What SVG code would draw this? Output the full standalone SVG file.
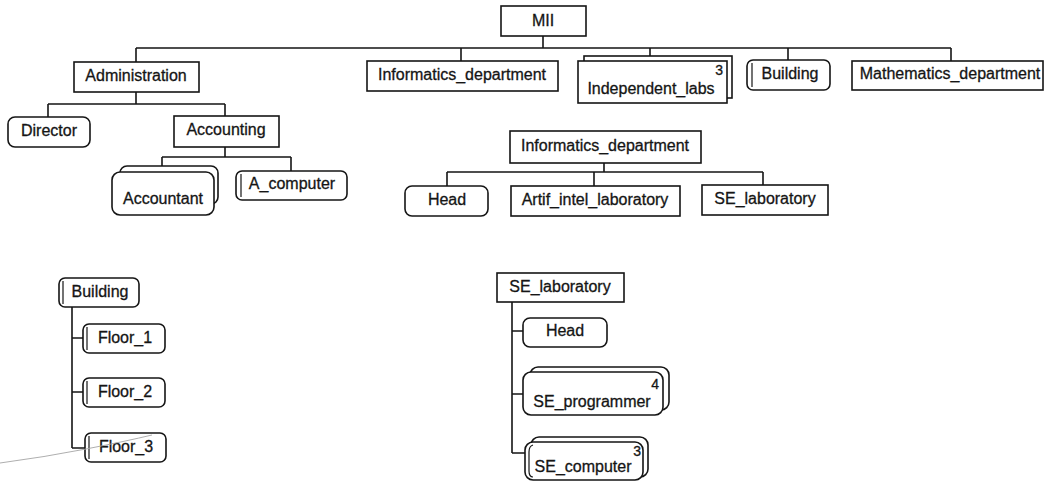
<svg xmlns="http://www.w3.org/2000/svg" width="1047" height="484" viewBox="0 0 1047 484">
  <style>
    .box { fill: #fff; stroke: #151515; stroke-width: 1.6; }
    .ln { fill: none; stroke: #151515; stroke-width: 1.6; }
    .in { fill: none; stroke: #151515; stroke-width: 1.2; }
    text { font-family: "Liberation Sans", Arial, sans-serif; font-size: 16px; fill: #151515; stroke: #151515; stroke-width: 0.3; text-anchor: middle; }
    .cnt { font-size: 14px; text-anchor: end; }
  </style>
  <rect width="1047" height="484" fill="#fff"/>

  <!-- tree edges -->
  <g id="connectors">
    <!-- MII level -->
    <path class="ln" d="M543,36 V48 M136,48 H951 M136,48 V62 M461,48 V61 M650,48 V56 M788,48 V60 M951,48 V61"/>
    <!-- Administration -->
    <path class="ln" d="M136,92 V104 M48,104 H225 M48,104 V117 M225,104 V116"/>
    <!-- Accounting -->
    <path class="ln" d="M225,147 V157 M162,157 H291 M162,157 V166 M291,157 V171"/>
    <!-- Informatics_department -->
    <path class="ln" d="M604,163 V172 M447,172 H763 M447,172 V186 M594,172 V186 M763,172 V185"/>
    <!-- Building -->
    <path class="ln" d="M72,307 V448 M72,338 H83 M72,392 H83 M72,448 H85"/>
    <!-- SE_laboratory -->
    <path class="ln" d="M512,302 V453 M512,331 H523 M512,394 H523 M512,453 H525"/>
  </g>

  <!-- main tree -->
  <g id="mii">
    <rect class="box" x="501" y="6" width="85" height="30"/>
    <text x="543" y="26">MII</text>
  </g>
  <g id="administration">
    <rect class="box" x="74" y="62" width="125" height="30"/>
    <text x="136" y="81">Administration</text>
  </g>
  <g id="informatics-top">
    <rect class="box" x="367" y="61" width="191" height="30"/>
    <text x="462" y="80">Informatics_department</text>
  </g>
  <g id="independent-labs">
    <rect class="box" x="584" y="56" width="148" height="42"/>
    <rect class="box" x="578" y="61" width="149" height="42"/>
    <text class="cnt" x="723" y="75">3</text>
    <text x="651" y="94">Independent_labs</text>
  </g>
  <g id="building-top">
    <rect class="box" x="747" y="60" width="83" height="30" rx="6"/>
    <line class="in" x1="752" y1="63" x2="752" y2="87"/>
    <text x="790" y="79">Building</text>
  </g>
  <g id="mathematics">
    <rect class="box" x="852" y="61" width="191" height="29"/>
    <text x="950" y="79">Mathematics_department</text>
  </g>

  <g id="director">
    <rect class="box" x="8" y="117" width="82" height="30" rx="7"/>
    <text x="49" y="136">Director</text>
  </g>
  <g id="accounting">
    <rect class="box" x="174" y="116" width="105" height="31"/>
    <text x="226" y="135">Accounting</text>
  </g>
  <g id="accountant">
    <rect class="box" x="120" y="166" width="98" height="38" rx="7"/>
    <rect class="box" x="112" y="172" width="102" height="43" rx="8"/>
    <text x="163" y="204">Accountant</text>
  </g>
  <g id="a-computer">
    <rect class="box" x="236" y="171" width="111" height="29" rx="6"/>
    <line class="in" x1="241" y1="174" x2="241" y2="197"/>
    <text x="292" y="189">A_computer</text>
  </g>

  <!-- Informatics_department subtree -->
  <g id="informatics">
    <rect class="box" x="510" y="131" width="191" height="32"/>
    <text x="605" y="151">Informatics_department</text>
  </g>
  <g id="head-inf">
    <rect class="box" x="405" y="186" width="83" height="30" rx="7"/>
    <text x="447" y="205">Head</text>
  </g>
  <g id="artif-intel">
    <rect class="box" x="511" y="186" width="169" height="30"/>
    <text x="595" y="205">Artif_intel_laboratory</text>
  </g>
  <g id="se-lab-top">
    <rect class="box" x="702" y="185" width="126" height="30"/>
    <text x="765" y="204">SE_laboratory</text>
  </g>

  <!-- Building subtree -->
  <g id="building">
    <rect class="box" x="59" y="278" width="80" height="29" rx="6"/>
    <line class="in" x1="63" y1="281" x2="63" y2="304"/>
    <text x="100" y="297">Building</text>
  </g>
  <g id="floor-1">
    <rect class="box" x="83" y="324" width="82" height="29" rx="6"/>
    <line class="in" x1="87" y1="327" x2="87" y2="350"/>
    <text x="125" y="343">Floor_1</text>
  </g>
  <g id="floor-2">
    <rect class="box" x="83" y="378" width="82" height="29" rx="6"/>
    <line class="in" x1="87" y1="381" x2="87" y2="404"/>
    <text x="125" y="397">Floor_2</text>
  </g>
  <g id="floor-3">
    <rect class="box" x="85" y="433" width="81" height="29" rx="6"/>
    <line class="in" x1="89" y1="436" x2="89" y2="459"/>
    <text x="126" y="452">Floor_3</text>
  </g>
  <path d="M0,463 Q45,457 86,449 T152,435" fill="none" stroke="#a5a5a5" stroke-width="0.9"/>

  <!-- SE_laboratory subtree -->
  <g id="se-lab">
    <rect class="box" x="497" y="273" width="127" height="29"/>
    <text x="560" y="292">SE_laboratory</text>
  </g>
  <g id="head-se">
    <rect class="box" x="523" y="318" width="84" height="29" rx="7"/>
    <text x="565" y="336">Head</text>
  </g>
  <g id="se-programmer">
    <rect class="box" x="530" y="367" width="139" height="43" rx="8"/>
    <rect class="box" x="523" y="372" width="140" height="43" rx="8"/>
    <text class="cnt" x="659" y="389">4</text>
    <text x="592" y="407">SE_programmer</text>
  </g>
  <g id="se-computer">
    <rect class="box" x="531" y="437" width="117" height="40" rx="8"/>
    <rect class="box" x="525" y="442" width="118" height="38" rx="8"/>
    <path class="in" d="M533,445 Q529,446 529,452 V471 Q529,477 533,477"/>
    <text class="cnt" x="641" y="456">3</text>
    <text x="583" y="472">SE_computer</text>
  </g>
</svg>
